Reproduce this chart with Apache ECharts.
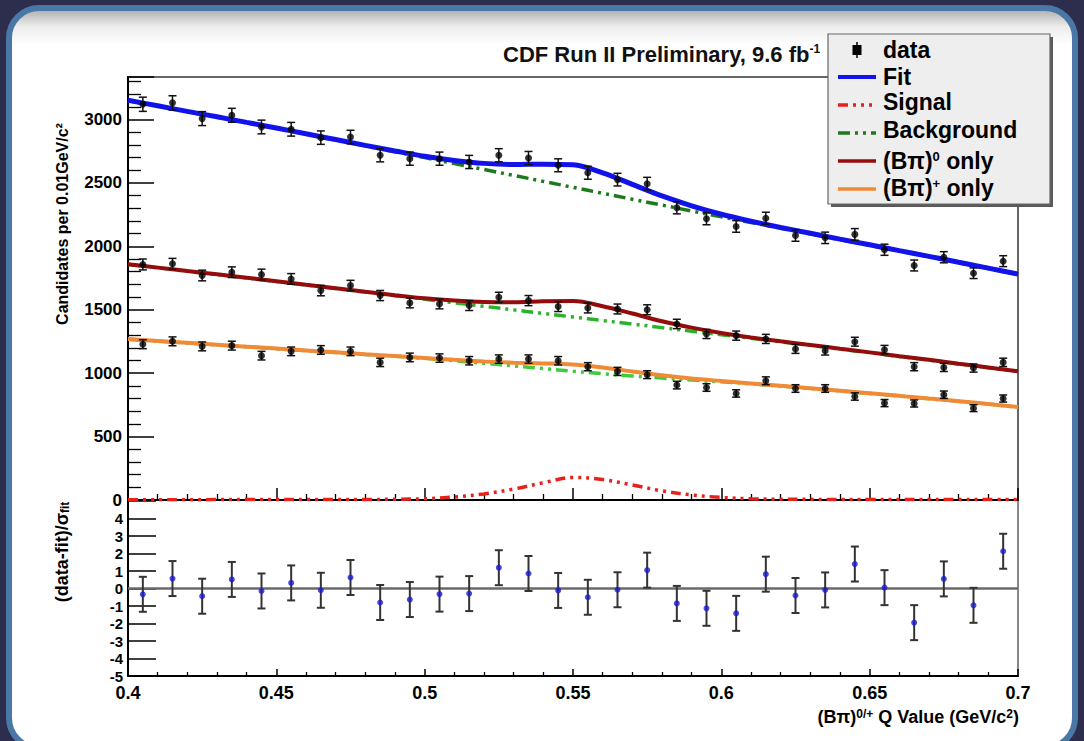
<!DOCTYPE html>
<html>
<head>
<meta charset="utf-8">
<script src="https://cdn.jsdelivr.net/npm/echarts@6/dist/echarts.min.js"></script>
<style>
  html, body { margin: 0; padding: 0; background: #2d2d4d; }
  #chart { width: 1084px; height: 741px; }
</style>
</head>
<body>
<div id="chart"></div>
<script>
// Bin centres of the Q-value histogram (GeV/c^2)
const binCenters = [0.405, 0.415, 0.425, 0.435, 0.445, 0.455, 0.465, 0.475, 0.485, 0.495,
                    0.505, 0.515, 0.525, 0.535, 0.545, 0.555, 0.565, 0.575, 0.585, 0.595,
                    0.605, 0.615, 0.625, 0.635, 0.645, 0.655, 0.665, 0.675, 0.685, 0.695];

// Candidates per bin: combined, (B pi)^0 only, (B pi)^+ only
const totalCounts = [3120, 3131, 3007, 3033, 2941, 2923, 2857, 2862, 2718, 2691,
                     2691, 2665, 2718, 2696, 2639, 2580, 2526, 2494, 2304, 2217,
                     2157, 2222, 2086, 2067, 2094, 1973, 1849, 1914, 1788, 1883];
const totalErr    = [56, 56, 55, 55, 54, 54, 53, 53, 52, 52, 52, 52, 52, 52, 51,
                     51, 50, 50, 48, 47, 46, 47, 46, 45, 46, 44, 43, 44, 42, 43];
const neutralCounts = [1857, 1862, 1770, 1796, 1778, 1743, 1651, 1691, 1612, 1554,
                       1546, 1533, 1598, 1572, 1525, 1514, 1506, 1500, 1388, 1309,
                       1296, 1270, 1191, 1177, 1248, 1185, 1051, 1045, 1040, 1085];
const neutralErr    = [43, 43, 42, 42, 42, 42, 41, 41, 40, 39, 39, 39, 40, 40, 39,
                       39, 39, 39, 37, 36, 36, 36, 35, 34, 35, 34, 32, 32, 32, 33];
const chargedCounts = [1228, 1251, 1211, 1217, 1138, 1172, 1183, 1172, 1085, 1124,
                       1119, 1098, 1111, 1111, 1098, 1051, 1014, 988, 906, 887,
                       840, 940, 879, 879, 816, 764, 761, 830, 724, 800];
const chargedErr    = [35, 35, 35, 35, 34, 34, 34, 34, 33, 34, 33, 33, 33, 33, 33,
                       32, 32, 31, 30, 30, 29, 31, 30, 30, 29, 28, 28, 29, 27, 28];

// Pulls (data - fit) / sigma_fit and their uncertainties
const pulls   = [-0.33, 0.57, -0.44, 0.52, -0.14, 0.32, -0.10, 0.63, -0.80, -0.63,
                 -0.32, -0.29, 1.19, 0.86, -0.11, -0.50, -0.07, 1.05, -0.85, -1.13,
                 -1.42, 0.82, -0.40, -0.08, 1.40, 0.05, -1.95, 0.55, -0.96, 2.13];
const pullErr = [1, 1, 1, 1, 1, 1, 1, 1, 1, 1, 1, 1, 1, 1, 1,
                 1, 1, 1, 1, 1, 1, 1, 1, 1, 1, 1, 1, 1, 1, 1];

// Fit curves sampled every 0.01 GeV/c^2
const curveX = [0.40, 0.41, 0.42, 0.43, 0.44, 0.45, 0.46, 0.47, 0.48, 0.49, 0.50,
                0.51, 0.52, 0.53, 0.54, 0.55, 0.56, 0.57, 0.58, 0.59, 0.60,
                0.61, 0.62, 0.63, 0.64, 0.65, 0.66, 0.67, 0.68, 0.69, 0.70];
const signalCurve = [2, 2, 2, 3, 3, 3, 3, 4, 4, 6, 10, 24, 48, 86, 136, 178, 162, 118, 72, 40, 20,
                     10, 6, 5, 4, 4, 3, 3, 3, 3, 3];
const totalBkg = [3150, 3106, 3062, 3018, 2974, 2930, 2884, 2838, 2792, 2746, 2700,
                  2653, 2606, 2559, 2512, 2465, 2418, 2371, 2325, 2279, 2233,
                  2188, 2143, 2098, 2053, 2008, 1963, 1918, 1871, 1825, 1778];
const totalFit = [3152, 3108, 3064, 3021, 2977, 2933, 2887, 2842, 2796, 2752, 2710,
                  2677, 2654, 2645, 2648, 2643, 2580, 2489, 2397, 2319, 2253,
                  2198, 2149, 2103, 2057, 2012, 1966, 1921, 1874, 1828, 1781];
const neutralBkg = [1857, 1831, 1804, 1777, 1750, 1723, 1695, 1667, 1639, 1611, 1583,
                    1555, 1527, 1499, 1471, 1443, 1415, 1387, 1359, 1331, 1303,
                    1275, 1247, 1219, 1190, 1161, 1132, 1103, 1073, 1043, 1013];
const neutralFit = [1858, 1832, 1805, 1779, 1752, 1725, 1697, 1670, 1642, 1615, 1590,
                    1572, 1561, 1559, 1566, 1568, 1528, 1470, 1409, 1359, 1317,
                    1282, 1251, 1222, 1193, 1164, 1134, 1105, 1075, 1045, 1015];
const chargedBkg = [1268, 1253, 1238, 1223, 1208, 1193, 1178, 1163, 1148, 1133, 1117,
                    1098, 1078, 1057, 1036, 1015, 996, 978, 961, 946, 932,
                    916, 898, 879, 860, 840, 820, 799, 778, 756, 732];
const chargedFit = [1269, 1254, 1239, 1224, 1209, 1194, 1179, 1164, 1149, 1135, 1120,
                    1105, 1092, 1083, 1077, 1068, 1045, 1013, 983, 958, 938,
                    919, 900, 881, 861, 841, 821, 800, 779, 757, 733];

// Axis tick labels
const xTickLabels = ['0.4', '0.45', '0.5', '0.55', '0.6', '0.65', '0.7'];
const countTickLabels = ['0', '500', '1000', '1500', '2000', '2500', '3000'];
const pullTickLabels = ['-5', '-4', '-3', '-2', '-1', '0', '1', '2', '3', '4'];

const FONT = '"Liberation Sans", Arial, Helvetica, sans-serif';
const C = {
  fit: '#1212ea', signal: '#e5221c', bkgDark: '#1c7a1c', bkgMid: '#2bb22b', bkgLight: '#3ccc3c',
  neutral: '#940c0c', charged: '#f08a36', pull: '#1a1ad2'
};

const pairs = (xs, ys) => xs.map((x, i) => [x, ys[i]]);

function curve(name, ys, color, width, dash, xi, yi, z) {
  return {
    name, type: 'line', xAxisIndex: xi, yAxisIndex: yi, data: pairs(curveX, ys),
    showSymbol: false, smooth: 0.35, silent: true, z,
    lineStyle: { color, width, type: dash || 'solid', cap: 'butt' }
  };
}

function errorBars(ys, errs, color, xi, yi, capHalf, width) {
  return {
    type: 'custom', xAxisIndex: xi, yAxisIndex: yi, silent: true, z: 6,
    data: binCenters.map((x, i) => [x, ys[i] - errs[i], ys[i] + errs[i]]),
    encode: { x: 0, y: [1, 2] },
    renderItem(params, api) {
      const x = api.value(0);
      const lo = api.coord([x, api.value(1)]);
      const hi = api.coord([x, api.value(2)]);
      const st = { stroke: color, lineWidth: width };
      return {
        type: 'group', children: [
          { type: 'line', shape: { x1: lo[0], y1: lo[1], x2: hi[0], y2: hi[1] }, style: st },
          { type: 'line', shape: { x1: lo[0] - capHalf, y1: lo[1], x2: lo[0] + capHalf, y2: lo[1] }, style: st },
          { type: 'line', shape: { x1: hi[0] - capHalf, y1: hi[1], x2: hi[0] + capHalf, y2: hi[1] }, style: st }
        ]
      };
    }
  };
}

function points(ys, color, size, xi, yi) {
  return {
    type: 'scatter', xAxisIndex: xi, yAxisIndex: yi, data: pairs(binCenters, ys),
    symbol: 'circle', symbolSize: size, silent: true, z: 7,
    itemStyle: { color, borderWidth: 0 }
  };
}

const dashSignal = [10, 5, 3, 5, 3, 5, 3, 5];
const dashBkg = [12, 5, 3, 5, 3, 5];

const series = [
  curve('Background', totalBkg, C.bkgDark, 3.5, dashBkg, 0, 0, 2),
  curve('Background', neutralBkg, C.bkgMid, 3.5, dashBkg, 0, 0, 2),
  curve('Background', chargedBkg, C.bkgLight, 3.5, dashBkg, 0, 0, 2),
  curve('Signal', signalCurve, C.signal, 3.5, dashSignal, 0, 0, 3),
  curve('Fit', totalFit, C.fit, 5, null, 0, 0, 4),
  curve('(Bπ)0 only', neutralFit, C.neutral, 4, null, 0, 0, 4),
  curve('(Bπ)+ only', chargedFit, C.charged, 4, null, 0, 0, 4),
  errorBars(totalCounts, totalErr, '#111', 0, 0, 4, 1.5),
  errorBars(neutralCounts, neutralErr, '#111', 0, 0, 4, 1.5),
  errorBars(chargedCounts, chargedErr, '#111', 0, 0, 4, 1.5),
  points(totalCounts, '#000', 7, 0, 0),
  points(neutralCounts, '#000', 7, 0, 0),
  points(chargedCounts, '#000', 7, 0, 0),
  errorBars(pulls, pullErr, '#333', 1, 1, 4, 2),
  Object.assign(points(pulls, C.pull, 6, 1, 1), {
    markLine: {
      silent: true, symbol: 'none', label: { show: false },
      lineStyle: { color: '#6a6a6a', width: 2.5, type: 'solid' },
      data: [{ yAxis: 0 }]
    }
  })
];

const tickLabel = { color: '#000', fontFamily: FONT, fontWeight: 'bold' };

const xAxisBase = {
  type: 'value', min: 0.4, max: 0.7, interval: 0.05,
  axisLine: { show: true, onZero: false, lineStyle: { color: '#000', width: 2 } },
  splitLine: { show: false }
};

const option = {
  backgroundColor: '#2d2d4d',
  animation: false,
  grid: [
    { left: 128, right: 66, top: 77, height: 423, show: true, borderColor: '#666', borderWidth: 2 },
    { left: 128, right: 66, top: 500, height: 176, show: true, borderColor: '#888', borderWidth: 2 }
  ],
  xAxis: [
    Object.assign({}, xAxisBase, {
      gridIndex: 0,
      axisTick: { inside: true, length: 12, lineStyle: { color: '#000', width: 1.5 } },
      minorTick: { show: true, splitNumber: 5, length: 6, lineStyle: { color: '#000', width: 1.3 } },
      axisLabel: { show: false }
    }),
    Object.assign({}, xAxisBase, {
      gridIndex: 1,
      axisTick: { inside: true, length: 7, lineStyle: { color: '#000', width: 1.5 } },
      minorTick: { show: true, splitNumber: 5, length: 4, lineStyle: { color: '#000', width: 1.3 } },
      axisLabel: Object.assign({}, tickLabel, {
        fontSize: 18, lineHeight: 18, margin: 8, showMinLabel: true, showMaxLabel: true,
        formatter: v => xTickLabels[Math.round((v - 0.4) / 0.05)] || ''
      })
    })
  ],
  yAxis: [
    {
      gridIndex: 0, type: 'value', min: 0, max: 3335, interval: 500,
      axisLine: { show: true, lineStyle: { color: '#000', width: 2 } },
      axisTick: { inside: true, length: 26, lineStyle: { color: '#000', width: 1.5 } },
      minorTick: { show: true, splitNumber: 5, length: 13, lineStyle: { color: '#000', width: 1.3 } },
      splitLine: { show: false },
      axisLabel: Object.assign({}, tickLabel, {
        fontSize: 17, margin: 6, showMaxLabel: false,
        formatter: v => {
          const k = Math.round(v / 500);
          return Math.abs(v - k * 500) < 1e-6 ? (countTickLabels[k] || '') : '';
        }
      })
    },
    {
      gridIndex: 1, type: 'value', min: -5, max: 5.06, interval: 1,
      axisLine: { show: true, lineStyle: { color: '#000', width: 2 } },
      axisTick: { inside: true, length: 28, lineStyle: { color: '#000', width: 1.5 } },
      splitLine: { show: false },
      axisLabel: Object.assign({}, tickLabel, {
        fontSize: 15, lineHeight: 13, margin: 5, showMinLabel: true, showMaxLabel: false,
        formatter: v => pullTickLabels[Math.round(v + 5)] || ''
      })
    }
  ],
  series,
  graphic: [
    // rounded slide panel
    {
      type: 'rect', z: -10, silent: true,
      shape: { x: 9, y: 8, width: 1066, height: 740, r: 30 },
      style: {
        fill: {
          type: 'linear', x: 0, y: 0, x2: 0, y2: 1,
          colorStops: [
            { offset: 0, color: '#a9a9a9' },
            { offset: 0.025, color: '#ececec' },
            { offset: 0.05, color: '#ffffff' },
            { offset: 1, color: '#ffffff' }
          ]
        },
        stroke: '#4a78a6', lineWidth: 6
      }
    },
    // header text
    {
      type: 'text', z: 20, silent: true, x: 503, y: 54,
      style: {
        text: 'CDF Run II Preliminary, 9.6 fb{sup|-1}',
        fill: '#111', font: 'bold 22px ' + FONT, verticalAlign: 'middle',
        rich: { sup: { fontSize: 12, fontWeight: 'bold', fontFamily: FONT, verticalAlign: 'top', fill: '#111' } }
      }
    },
    // axis titles
    {
      type: 'text', z: 20, silent: true, x: 62, y: 224, rotation: Math.PI / 2,
      style: {
        text: 'Candidates per 0.01GeV/c²', fill: '#000', font: 'bold 16px ' + FONT,
        align: 'center', verticalAlign: 'middle'
      }
    },
    {
      type: 'text', z: 20, silent: true, x: 62, y: 552, rotation: Math.PI / 2,
      style: {
        text: '(data-fit)/σ{sub|fit}', fill: '#000', font: 'bold 18px ' + FONT,
        align: 'center', verticalAlign: 'middle',
        rich: { sub: { fontSize: 12, fontWeight: 'bold', fontFamily: FONT, verticalAlign: 'bottom', fill: '#000' } }
      }
    },
    {
      type: 'text', z: 20, silent: true, x: 1019, y: 717,
      style: {
        text: '(Bπ){sup|0/+} Q Value (GeV/c{sup|2})', fill: '#000', font: 'bold 18px ' + FONT,
        align: 'right', verticalAlign: 'middle',
        rich: { sup: { fontSize: 12, fontWeight: 'bold', fontFamily: FONT, verticalAlign: 'top', fill: '#000' } }
      }
    },
    // legend box
    {
      type: 'group', z: 30, silent: true,
      children: [
        { type: 'rect', shape: { x: 831, y: 37, width: 222, height: 170 }, style: { fill: '#5a5a5a' } },
        { type: 'rect', shape: { x: 828, y: 34, width: 222, height: 170 }, style: { fill: '#eeeeee', stroke: '#666', lineWidth: 1.2 } },
        // data
        { type: 'line', shape: { x1: 857, y1: 42, x2: 857, y2: 58 }, style: { stroke: '#000', lineWidth: 1.5 } },
        { type: 'rect', shape: { x: 852.5, y: 45, width: 9, height: 10 }, style: { fill: '#000' } },
        { type: 'text', x: 883, y: 50, style: { text: 'data', fill: '#000', font: 'bold 23px ' + FONT, verticalAlign: 'middle' } },
        // Fit
        { type: 'line', shape: { x1: 838, y1: 77, x2: 876, y2: 77 }, style: { stroke: C.fit, lineWidth: 4 } },
        { type: 'text', x: 883, y: 77, style: { text: 'Fit', fill: '#000', font: 'bold 23px ' + FONT, verticalAlign: 'middle' } },
        // Signal
        { type: 'line', shape: { x1: 838, y1: 105, x2: 876, y2: 105 }, style: { stroke: C.signal, lineWidth: 3.5, lineDash: dashSignal } },
        { type: 'text', x: 883, y: 102, style: { text: 'Signal', fill: '#000', font: 'bold 23px ' + FONT, verticalAlign: 'middle' } },
        // Background
        { type: 'line', shape: { x1: 838, y1: 133, x2: 876, y2: 133 }, style: { stroke: C.bkgDark, lineWidth: 3.5, lineDash: dashBkg } },
        { type: 'text', x: 883, y: 130, style: { text: 'Background', fill: '#000', font: 'bold 23px ' + FONT, verticalAlign: 'middle' } },
        // (B pi)^0 only
        { type: 'line', shape: { x1: 838, y1: 161, x2: 876, y2: 161 }, style: { stroke: C.neutral, lineWidth: 3.5 } },
        {
          type: 'text', x: 883, y: 161,
          style: {
            text: '(Bπ){sup|0} only', fill: '#000', font: 'bold 23px ' + FONT, verticalAlign: 'middle',
            rich: { sup: { fontSize: 13, fontWeight: 'bold', fontFamily: FONT, verticalAlign: 'top', fill: '#000' } }
          }
        },
        // (B pi)^+ only
        { type: 'line', shape: { x1: 838, y1: 189, x2: 876, y2: 189 }, style: { stroke: C.charged, lineWidth: 3.5 } },
        {
          type: 'text', x: 883, y: 188,
          style: {
            text: '(Bπ){sup|+} only', fill: '#000', font: 'bold 23px ' + FONT, verticalAlign: 'middle',
            rich: { sup: { fontSize: 13, fontWeight: 'bold', fontFamily: FONT, verticalAlign: 'top', fill: '#000' } }
          }
        }
      ]
    }
  ]
};

const chart = echarts.init(document.getElementById('chart'), null, { renderer: 'svg' });
chart.setOption(option);
</script>
</body>
</html>
